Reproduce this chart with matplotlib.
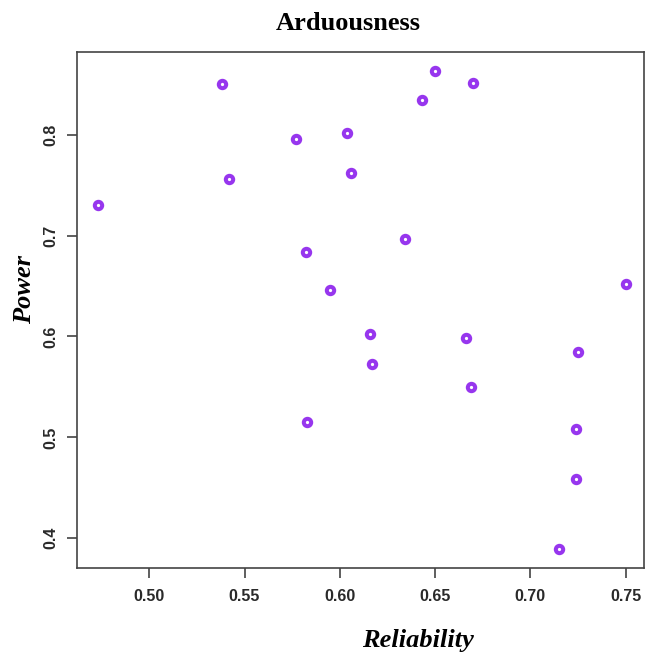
import matplotlib
matplotlib.use("Agg")
import matplotlib.pyplot as plt

# Reliability vs. power for each item
reliability = [0.473, 0.538, 0.542, 0.577, 0.582, 0.583, 0.595, 0.604, 0.606,
               0.616, 0.617, 0.634, 0.643, 0.650, 0.666, 0.669, 0.670, 0.715,
               0.724, 0.724, 0.725, 0.750]
power = [0.730, 0.850, 0.756, 0.796, 0.684, 0.515, 0.646, 0.802, 0.762,
         0.602, 0.573, 0.697, 0.834, 0.863, 0.598, 0.550, 0.851, 0.389,
         0.459, 0.508, 0.585, 0.652]

x_ticks = [0.50, 0.55, 0.60, 0.65, 0.70, 0.75]
x_tick_labels = ["0.50", "0.55", "0.60", "0.65", "0.70", "0.75"]
y_ticks = [0.4, 0.5, 0.6, 0.7, 0.8]
y_tick_labels = ["0.4", "0.5", "0.6", "0.7", "0.8"]

W, H = 650, 653
fig = plt.figure(figsize=(W / 100, H / 100), dpi=100)
ax = fig.add_axes([76.7 / W, 1 - 568.3 / H, (644.3 - 76.7) / W, (568.3 - 52.3) / H])

ax.plot(reliability, power, linestyle="none", marker="o", markersize=5.3,
        markerfacecolor="white", markeredgecolor="#9736ee", markeredgewidth=2.9)

ax.set_xlim(0.4619, 0.7598)
ax.set_ylim(0.3702, 0.8816)

ax.set_xticks(x_ticks)
ax.set_xticklabels(x_tick_labels)
ax.set_yticks(y_ticks)
ax.set_yticklabels(y_tick_labels, rotation=90, va="center")

tick_font = dict(family="Liberation Sans", weight="bold", size=11.5)
for lab in ax.get_xticklabels() + ax.get_yticklabels():
    lab.set_fontfamily(tick_font["family"])
    lab.set_fontweight(tick_font["weight"])
    lab.set_fontsize(tick_font["size"])
    lab.set_color("#2a2a2a")

ax.tick_params(axis="both", length=7, width=1.1, color="#333333", pad=8)
ax.tick_params(axis="y", pad=6)

for side in ax.spines.values():
    side.set_linewidth(1.2)
    side.set_color("#444444")

serif = "Liberation Serif"
fig.text(348 / W, 1 - 24 / H, "Arduousness", ha="center", va="center",
         family=serif, weight="bold", size=19)
fig.text(418 / W, 1 - 641 / H, "Reliability", ha="center", va="center",
         family=serif, weight="bold", style="italic", size=19)
fig.text(25 / W, 1 - 290 / H, "Power", ha="center", va="center", rotation=90,
         family=serif, weight="bold", style="italic", size=19)

fig.savefig("out.png", dpi=100, facecolor="white")
